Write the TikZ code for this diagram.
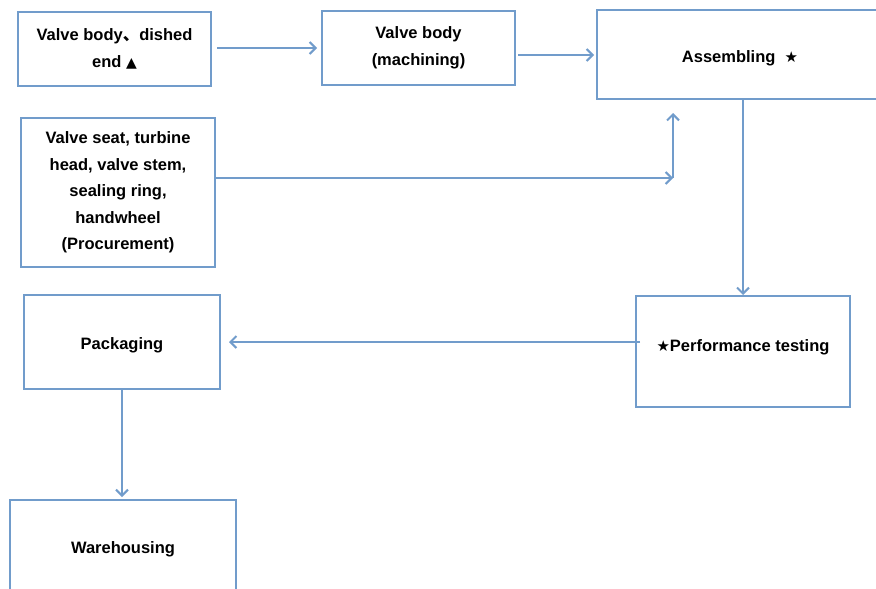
\documentclass[tikz,border=0pt]{standalone}
\usepackage{fontspec}
\setmainfont{Liberation Sans}
\newfontfamily\symfont{DejaVu Sans}
\newfontfamily\cjkfont{Noto Sans CJK SC}
\usetikzlibrary{arrows.meta}
\definecolor{lineblue}{HTML}{719CCB}
\begin{document}
\begin{tikzpicture}[x=1pt,y=-1pt,
  box/.style={draw=lineblue,line width=2pt,rectangle,align=center,inner sep=0pt,
    font=\fontsize{16.5}{26.5}\selectfont\bfseries},
  arr/.style={draw=lineblue,line width=2pt,-{Straight Barb[length=6pt,width=12pt,line width=2pt]}}]
\useasboundingbox (0,0) rectangle (876,589);
\node[box,minimum width=193pt,minimum height=74pt] (b1) at (114.5,49) {Valve body{\cjkfont 、}dished\\end {\symfont\fontsize{14}{14}\selectfont ▲}};
\node[box,minimum width=193pt,minimum height=74pt] (b2) at (418.5,48) {Valve body\\(machining)};
\node[box,minimum width=286pt,minimum height=89pt,text height=15pt,text depth=0pt] (b3) at (740,54.5) {Assembling \;{\symfont\fontsize{15}{15}\selectfont ★}};
\node[box,minimum width=194pt,minimum height=149pt] (b4) at (118,192.5) {Valve seat, turbine\\head, valve stem,\\sealing ring,\\handwheel\\(Procurement)};
\node[box,minimum width=196pt,minimum height=94pt,text height=14pt,text depth=0pt] (b5) at (122,342) {Packaging};
\node[box,minimum width=214pt,minimum height=111pt,text height=5pt,text depth=5pt] (b6) at (743,351.5) {{\symfont\fontsize{15}{15}\selectfont ★}Performance testing};
\node[box,minimum width=226pt,minimum height=94pt,text height=12pt,text depth=0pt] (b7) at (123,547) {Warehousing};
\coordinate (j) at (673,178);
\coordinate (a1) at (217,48);
\coordinate (a2) at (518,55);
\draw[arr] (a1) -- ([xshift=-4pt]a1 -| b2.west);
\draw[arr] (a2) -- ([xshift=-2pt]a2 -| b3.west);
\draw[arr] (b4.east |- j) -- (j);
\draw[arr] (j) -- ([yshift=-13pt]j |- b3.south);
\draw[arr] (b3.south -| b6.north) -- (b6.north);
\draw[arr] ([xshift=5pt]b6.west |- b5.east) -- ([xshift=8pt]b5.east);
\draw[arr] (b5.south) -- ([yshift=2pt]b5.south |- b7.north);
\end{tikzpicture}
\end{document}
